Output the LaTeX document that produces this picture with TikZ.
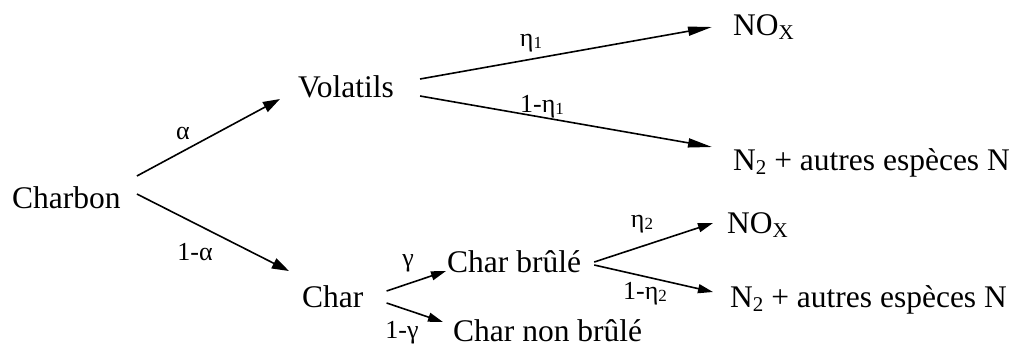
\documentclass[tikz,border=0pt]{standalone}
\usepackage{fontspec}
\setmainfont{Liberation Serif}
\newfontfamily\labfont{Liberation Serif}
\usetikzlibrary{arrows.meta}
\newcommand\lowsub[1]{\raisebox{-4.5pt}{\fontsize{21}{21}\selectfont #1}}
\newcommand\labsub[1]{\raisebox{-2pt}{\fontsize{17}{17}\selectfont #1}}
\tikzset{
  txt/.style={inner sep=0pt, anchor=base west, font=\rmfamily\fontsize{31.5}{34}\selectfont},
  lab/.style={inner sep=0pt, font=\labfont\fontsize{26}{28}\selectfont},
  conn/.style={line width=1.6pt},
  longtip/.style={conn, -{Triangle[length=24pt,width=9pt]}},
  midtip/.style={conn, -{Triangle[length=17pt,width=11pt]}},
  smalltip/.style={conn, -{Triangle[length=15pt,width=9pt]}},
}
\begin{document}
\begin{tikzpicture}[x=1pt,y=-1pt]
\useasboundingbox (0,0) rectangle (1017,349);
% nodes
\node[txt] (charbon) at (12,208) {Charbon};
\node[txt] (volatils) at (298,97) {Volatils};
\node[txt] (char) at (302,307) {Char};
\node[txt] (noxa) at (733,35) {NO\lowsub{X}};
\node[txt] (n2a) at (733,170) {N\lowsub{2} + autres espèces N};
\node[txt] (brule) at (447,272) {Char brûlé};
\node[txt] (nonbrule) at (453,341) {Char non brûlé};
\node[txt] (noxb) at (727,233) {NO\lowsub{X}};
\node[txt] (n2b) at (730,307) {N\lowsub{2} + autres espèces N};
% labels
\node[lab] (lalpha) at (183,133) {α};
\node[lab] (lnalpha) at (195,252) {1-α};
\node[lab] (leta1) at (531,43) {η\labsub{1}};
\node[lab] (lneta1) at (542,107) {1-η\labsub{1}};
\node[lab] (lgamma) at (408,263) {γ};
\node[lab] (lngamma) at (402,333) {1-γ};
\node[lab] (leta2) at (642,224) {η\labsub{2}};
\node[lab] (lneta2) at (645,294) {1-η\labsub{2}};
% connectors
\draw[midtip] ([shift={(16,-32)}]charbon.base east) -- ([shift={(-18,2)}]volatils.base west);
\draw[midtip] ([shift={(16,-14)}]charbon.base east) -- ([shift={(-13,-36)}]char.base west);
\draw[longtip] ([shift={(26,-18)}]volatils.base east) -- ([shift={(-21,-8)}]noxa.base west);
\draw[longtip] ([shift={(26,-1)}]volatils.base east) -- ([shift={(-21,-23)}]n2a.base west);
\draw[smalltip] ([shift={(23,-16)}]char.base east) -- ([shift={(-1,-1)}]brule.base west);
\draw[smalltip] ([shift={(23,-4)}]char.base east) -- ([shift={(-10,-19)}]nonbrule.base west);
\draw[smalltip] ([shift={(13,-10)}]brule.base east) -- ([shift={(-14,-10)}]noxb.base west);
\draw[smalltip] ([shift={(13,-7)}]brule.base east) -- ([shift={(-17,-15)}]n2b.base west);
\end{tikzpicture}
\end{document}
